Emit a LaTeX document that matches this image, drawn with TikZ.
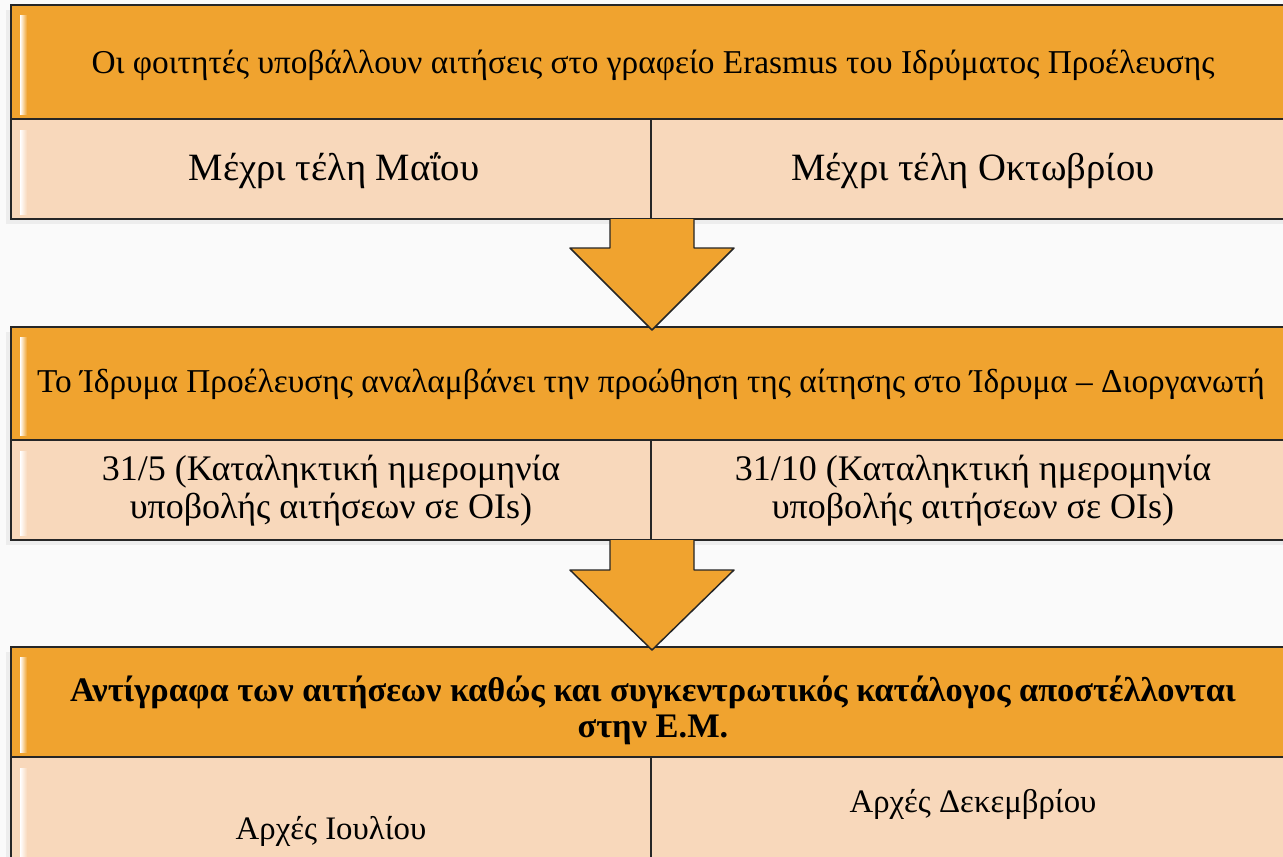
\documentclass[tikz,border=0pt]{standalone}
\usepackage{fontspec}
\setmainfont{Liberation Serif}
\usetikzlibrary{positioning}
\definecolor{hdr}{HTML}{F0A32F}
\definecolor{cell}{HTML}{F8D8BB}
\definecolor{bg}{HTML}{FAFAFA}
\tikzset{
  hdrbox/.style={draw=black!85,line width=1.4pt,fill=hdr},
  cellbox/.style={draw=black!85,line width=1.4pt,fill=cell},
  darrow/.style={draw=black!85,line width=1.1pt,fill=hdr,line join=round},
  hilite/.style={left color=white,right color=#1,draw=none},
  hdrtext/.style={font=\fontsize{25}{28}\selectfont},
  celltext/.style={font=\fontsize{27}{28.5}\selectfont,align=center},
}

\begin{document}
\begin{tikzpicture}[x=0.75pt,y=-0.75pt]
    \useasboundingbox (0,0) rectangle (1283,857);
    \clip (0,0) rectangle (1283,857);
    \fill[bg] (0,0) rectangle (1283,857);

    % Table edges
    \def\xl{11}
    \def\xr{1295}
    \def\xm{651}

    % Shadows
    \foreach \ya/\yb in {5/219, 327/540, 647/870}
        \fill[black!7] (\xl-5,\ya+5) rectangle (\xr,\yb+5);

    % Block 1
    \draw[hdrbox] (\xl,5) rectangle (\xr,119);
    \draw[cellbox] (\xl,119) rectangle (\xm,219);
    \draw[cellbox] (\xm,119) rectangle (\xr,219);

    % Block 2
    \draw[hdrbox] (\xl,327) rectangle (\xr,440);
    \draw[cellbox] (\xl,440) rectangle (\xm,540);
    \draw[cellbox] (\xm,440) rectangle (\xr,540);

    % Block 3
    \draw[hdrbox] (\xl,647) rectangle (\xr,757);
    \draw[cellbox] (\xl,757) rectangle (\xm,870);
    \draw[cellbox] (\xm,757) rectangle (\xr,870);

    % Highlights
    \foreach \ya/\yb/\c in {15/114/hdr, 130/214/cell, 337/435/hdr, 451/535/cell, 657/752/hdr, 768/857/cell}
        \shade[hilite=\c] (\xl+9,\ya) rectangle (\xl+16,\yb);

    % Arrows
    \foreach \ya/\yb/\yc in {219/248/330, 540/570/650}
        \draw[darrow] (610,\ya) -- (610,\yb) -- (570,\yb) -- (652,\yc)
            -- (734,\yb) -- (694,\yb) -- (694,\ya);

    % Texts, block 1
    \node[hdrtext] (apply) at (653,65) {Οι φοιτητές υποβάλλουν αιτήσεις στο γραφείο Erasmus του Ιδρύματος Προέλευσης};
    \node[celltext,font=\fontsize{29}{31}\selectfont] (may) at (334,171) {Μέχρι τέλη Μαΐου};
    \node[celltext,font=\fontsize{29}{31}\selectfont] (oct) at (973,171) {Μέχρι τέλη Οκτωβρίου};

    % Texts, block 2
    \node[hdrtext] (forward) at (651,384) {Το Ίδρυμα Προέλευσης αναλαμβάνει την προώθηση της αίτησης στο Ίδρυμα – Διοργανωτή};
    \node[celltext] (dmay) at (331,491) {31/5 (Καταληκτική ημερομηνία\\υποβολής αιτήσεων σε OIs)};
    \node[celltext] (doct) at (973,491) {31/10 (Καταληκτική ημερομηνία\\υποβολής αιτήσεων σε OIs)};

    % Texts, block 3
    \node[hdrtext,font=\fontsize{25.8}{27}\selectfont\bfseries,align=center] (copies) at (653,710)
        {Αντίγραφα των αιτήσεων καθώς και συγκεντρωτικός κατάλογος αποστέλλονται\\στην Ε.Μ.};
    \node[celltext,font=\fontsize{24.6}{27}\selectfont] (jul) at (331,831) {Αρχές Ιουλίου};
    \node[celltext,font=\fontsize{24.6}{27}\selectfont] (dec) at (973,804) {Αρχές Δεκεμβρίου};

\end{tikzpicture}
\end{document}
